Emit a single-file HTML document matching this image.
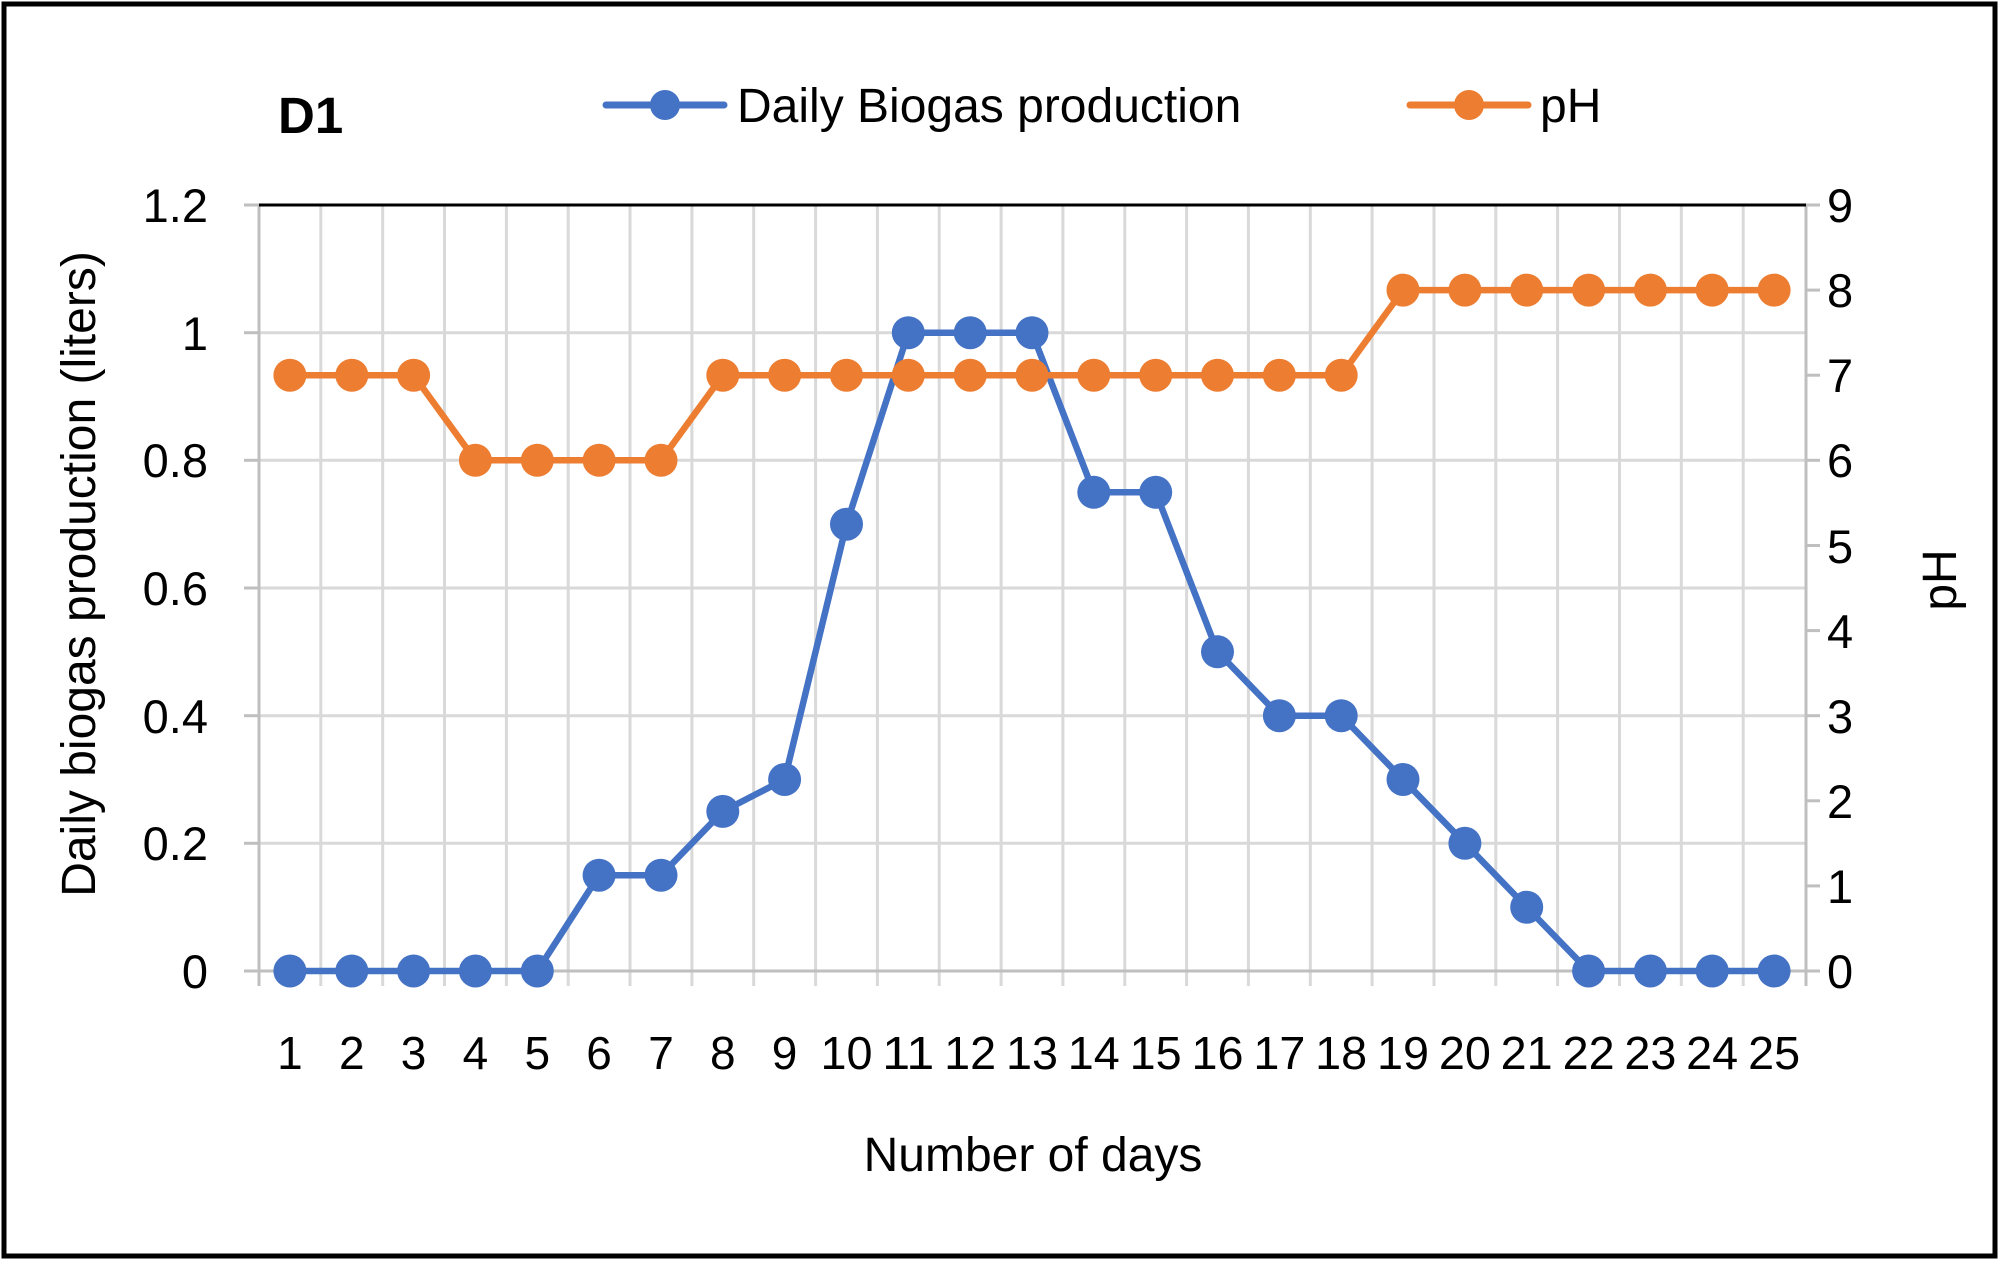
<!DOCTYPE html>
<html><head><meta charset="utf-8"><style>
html,body{margin:0;padding:0;background:#fff}
svg{display:block}
text{font-family:"Liberation Sans",Arial,sans-serif;fill:#000}
</style></head><body>
<svg width="2000" height="1261" viewBox="0 0 2000 1261">
<rect x="0" y="0" width="2000" height="1261" fill="#fff"/>
<rect x="4" y="4" width="1991" height="1252" fill="none" stroke="#000" stroke-width="5"/>
<g stroke="#d9d9d9" stroke-width="3">
<line x1="259" y1="843.3" x2="1806" y2="843.3"/>
<line x1="259" y1="715.7" x2="1806" y2="715.7"/>
<line x1="259" y1="588" x2="1806" y2="588"/>
<line x1="259" y1="460.3" x2="1806" y2="460.3"/>
<line x1="259" y1="332.7" x2="1806" y2="332.7"/>
</g>
<g stroke="#d9d9d9" stroke-width="3">
<line x1="320.8" y1="205" x2="320.8" y2="986"/><line x1="382.7" y1="205" x2="382.7" y2="986"/><line x1="444.5" y1="205" x2="444.5" y2="986"/><line x1="506.4" y1="205" x2="506.4" y2="986"/><line x1="568.2" y1="205" x2="568.2" y2="986"/><line x1="630" y1="205" x2="630" y2="986"/><line x1="691.9" y1="205" x2="691.9" y2="986"/><line x1="753.7" y1="205" x2="753.7" y2="986"/><line x1="815.6" y1="205" x2="815.6" y2="986"/><line x1="877.4" y1="205" x2="877.4" y2="986"/><line x1="939.2" y1="205" x2="939.2" y2="986"/><line x1="1001.1" y1="205" x2="1001.1" y2="986"/><line x1="1062.9" y1="205" x2="1062.9" y2="986"/><line x1="1124.8" y1="205" x2="1124.8" y2="986"/><line x1="1186.6" y1="205" x2="1186.6" y2="986"/><line x1="1248.4" y1="205" x2="1248.4" y2="986"/><line x1="1310.3" y1="205" x2="1310.3" y2="986"/><line x1="1372.1" y1="205" x2="1372.1" y2="986"/><line x1="1434" y1="205" x2="1434" y2="986"/><line x1="1495.8" y1="205" x2="1495.8" y2="986"/><line x1="1557.6" y1="205" x2="1557.6" y2="986"/><line x1="1619.5" y1="205" x2="1619.5" y2="986"/><line x1="1681.3" y1="205" x2="1681.3" y2="986"/><line x1="1743.2" y1="205" x2="1743.2" y2="986"/>
</g>
<g stroke="#bfbfbf" stroke-width="3">
<line x1="259" y1="205" x2="259" y2="986"/>
<line x1="1806" y1="205" x2="1806" y2="986"/>
<line x1="244" y1="971" x2="1820" y2="971"/>
<line x1="244" y1="843.3" x2="259" y2="843.3"/><line x1="244" y1="715.7" x2="259" y2="715.7"/><line x1="244" y1="588" x2="259" y2="588"/><line x1="244" y1="460.3" x2="259" y2="460.3"/><line x1="244" y1="332.7" x2="259" y2="332.7"/><line x1="244" y1="205" x2="259" y2="205"/>
<line x1="1806" y1="885.9" x2="1820" y2="885.9"/><line x1="1806" y1="800.8" x2="1820" y2="800.8"/><line x1="1806" y1="715.7" x2="1820" y2="715.7"/><line x1="1806" y1="630.6" x2="1820" y2="630.6"/><line x1="1806" y1="545.5" x2="1820" y2="545.5"/><line x1="1806" y1="460.3" x2="1820" y2="460.3"/><line x1="1806" y1="375.2" x2="1820" y2="375.2"/><line x1="1806" y1="290.1" x2="1820" y2="290.1"/><line x1="1806" y1="205" x2="1820" y2="205"/>
</g>
<line x1="259" y1="205" x2="1806" y2="205" stroke="#000" stroke-width="3"/>
<polyline fill="none" stroke="#4472c4" stroke-width="6.5" stroke-linejoin="round" points="289.9,971 351.8,971 413.6,971 475.4,971 537.3,971 599.1,875.2 661,875.2 722.8,811.4 784.6,779.5 846.5,524.2 908.3,332.7 970.2,332.7 1032,332.7 1093.8,492.3 1155.7,492.3 1217.5,651.8 1279.4,715.7 1341.2,715.7 1403,779.5 1464.9,843.3 1526.7,907.2 1588.6,971 1650.4,971 1712.2,971 1774.1,971"/>
<g fill="#4472c4">
<circle cx="289.9" cy="971" r="16.5"/><circle cx="351.8" cy="971" r="16.5"/><circle cx="413.6" cy="971" r="16.5"/><circle cx="475.4" cy="971" r="16.5"/><circle cx="537.3" cy="971" r="16.5"/><circle cx="599.1" cy="875.2" r="16.5"/><circle cx="661" cy="875.2" r="16.5"/><circle cx="722.8" cy="811.4" r="16.5"/><circle cx="784.6" cy="779.5" r="16.5"/><circle cx="846.5" cy="524.2" r="16.5"/><circle cx="908.3" cy="332.7" r="16.5"/><circle cx="970.2" cy="332.7" r="16.5"/><circle cx="1032" cy="332.7" r="16.5"/><circle cx="1093.8" cy="492.3" r="16.5"/><circle cx="1155.7" cy="492.3" r="16.5"/><circle cx="1217.5" cy="651.8" r="16.5"/><circle cx="1279.4" cy="715.7" r="16.5"/><circle cx="1341.2" cy="715.7" r="16.5"/><circle cx="1403" cy="779.5" r="16.5"/><circle cx="1464.9" cy="843.3" r="16.5"/><circle cx="1526.7" cy="907.2" r="16.5"/><circle cx="1588.6" cy="971" r="16.5"/><circle cx="1650.4" cy="971" r="16.5"/><circle cx="1712.2" cy="971" r="16.5"/><circle cx="1774.1" cy="971" r="16.5"/>
</g>
<polyline fill="none" stroke="#ed7d31" stroke-width="6.5" stroke-linejoin="round" points="289.9,375.2 351.8,375.2 413.6,375.2 475.4,460.3 537.3,460.3 599.1,460.3 661,460.3 722.8,375.2 784.6,375.2 846.5,375.2 908.3,375.2 970.2,375.2 1032,375.2 1093.8,375.2 1155.7,375.2 1217.5,375.2 1279.4,375.2 1341.2,375.2 1403,290.1 1464.9,290.1 1526.7,290.1 1588.6,290.1 1650.4,290.1 1712.2,290.1 1774.1,290.1"/>
<g fill="#ed7d31">
<circle cx="289.9" cy="375.2" r="16.5"/><circle cx="351.8" cy="375.2" r="16.5"/><circle cx="413.6" cy="375.2" r="16.5"/><circle cx="475.4" cy="460.3" r="16.5"/><circle cx="537.3" cy="460.3" r="16.5"/><circle cx="599.1" cy="460.3" r="16.5"/><circle cx="661" cy="460.3" r="16.5"/><circle cx="722.8" cy="375.2" r="16.5"/><circle cx="784.6" cy="375.2" r="16.5"/><circle cx="846.5" cy="375.2" r="16.5"/><circle cx="908.3" cy="375.2" r="16.5"/><circle cx="970.2" cy="375.2" r="16.5"/><circle cx="1032" cy="375.2" r="16.5"/><circle cx="1093.8" cy="375.2" r="16.5"/><circle cx="1155.7" cy="375.2" r="16.5"/><circle cx="1217.5" cy="375.2" r="16.5"/><circle cx="1279.4" cy="375.2" r="16.5"/><circle cx="1341.2" cy="375.2" r="16.5"/><circle cx="1403" cy="290.1" r="16.5"/><circle cx="1464.9" cy="290.1" r="16.5"/><circle cx="1526.7" cy="290.1" r="16.5"/><circle cx="1588.6" cy="290.1" r="16.5"/><circle cx="1650.4" cy="290.1" r="16.5"/><circle cx="1712.2" cy="290.1" r="16.5"/><circle cx="1774.1" cy="290.1" r="16.5"/>
</g>
<g font-size="47" text-anchor="end">
<text x="208" y="988">0</text><text x="208" y="860">0.2</text><text x="208" y="733">0.4</text><text x="208" y="605">0.6</text><text x="208" y="477">0.8</text><text x="208" y="350">1</text><text x="208" y="222">1.2</text>
</g>
<g font-size="47" text-anchor="start">
<text x="1827" y="988">0</text><text x="1827" y="903">1</text><text x="1827" y="818">2</text><text x="1827" y="733">3</text><text x="1827" y="648">4</text><text x="1827" y="563">5</text><text x="1827" y="477">6</text><text x="1827" y="392">7</text><text x="1827" y="307">8</text><text x="1827" y="222">9</text>
</g>
<g font-size="46" text-anchor="middle">
<text x="289.9" y="1069">1</text><text x="351.8" y="1069">2</text><text x="413.6" y="1069">3</text><text x="475.4" y="1069">4</text><text x="537.3" y="1069">5</text><text x="599.1" y="1069">6</text><text x="661" y="1069">7</text><text x="722.8" y="1069">8</text><text x="784.6" y="1069">9</text><text x="846.5" y="1069" textLength="52" lengthAdjust="spacingAndGlyphs">10</text><text x="908.3" y="1069" textLength="52" lengthAdjust="spacingAndGlyphs">11</text><text x="970.2" y="1069" textLength="52" lengthAdjust="spacingAndGlyphs">12</text><text x="1032" y="1069" textLength="52" lengthAdjust="spacingAndGlyphs">13</text><text x="1093.8" y="1069" textLength="52" lengthAdjust="spacingAndGlyphs">14</text><text x="1155.7" y="1069" textLength="52" lengthAdjust="spacingAndGlyphs">15</text><text x="1217.5" y="1069" textLength="52" lengthAdjust="spacingAndGlyphs">16</text><text x="1279.4" y="1069" textLength="52" lengthAdjust="spacingAndGlyphs">17</text><text x="1341.2" y="1069" textLength="52" lengthAdjust="spacingAndGlyphs">18</text><text x="1403" y="1069" textLength="52" lengthAdjust="spacingAndGlyphs">19</text><text x="1464.9" y="1069" textLength="52" lengthAdjust="spacingAndGlyphs">20</text><text x="1526.7" y="1069" textLength="52" lengthAdjust="spacingAndGlyphs">21</text><text x="1588.6" y="1069" textLength="52" lengthAdjust="spacingAndGlyphs">22</text><text x="1650.4" y="1069" textLength="52" lengthAdjust="spacingAndGlyphs">23</text><text x="1712.2" y="1069" textLength="52" lengthAdjust="spacingAndGlyphs">24</text><text x="1774.1" y="1069" textLength="52" lengthAdjust="spacingAndGlyphs">25</text>
</g>
<text x="1033" y="1171" font-size="48" text-anchor="middle">Number of days</text>
<text transform="translate(95,574) rotate(-90)" font-size="48" text-anchor="middle">Daily biogas production (liters)</text>
<text transform="translate(1956,580) rotate(-90)" font-size="48" text-anchor="middle">pH</text>
<text x="278" y="133" font-size="51" font-weight="bold">D1</text>
<line x1="606" y1="105" x2="724" y2="105" stroke="#4472c4" stroke-width="7" stroke-linecap="round"/>
<circle cx="665" cy="105" r="15" fill="#4472c4"/>
<text x="737" y="122" font-size="48">Daily Biogas production</text>
<line x1="1410" y1="105" x2="1528" y2="105" stroke="#ed7d31" stroke-width="7" stroke-linecap="round"/>
<circle cx="1469" cy="105" r="15" fill="#ed7d31"/>
<text x="1540" y="122" font-size="48">pH</text>
</svg>
</body></html>
